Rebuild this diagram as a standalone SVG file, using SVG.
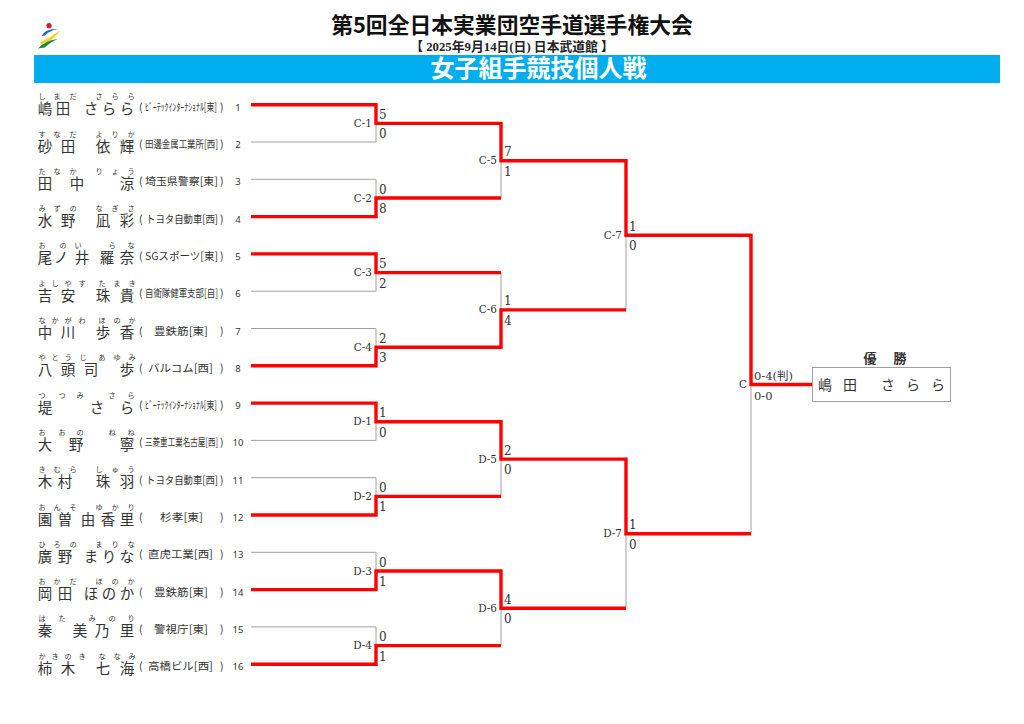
<svg xmlns="http://www.w3.org/2000/svg" width="1024" height="724" viewBox="0 0 1024 724">
<style>
text{font-family:"Noto Sans CJK JP","Noto Sans",sans-serif;fill:#333}
.nm{font-size:14.5px;text-anchor:middle}
.fu{font-size:7.2px;text-anchor:middle}
.af{font-size:10.5px}
.no{font-size:9.5px;text-anchor:middle;font-family:"Noto Sans",sans-serif}
.lb{font-family:"DejaVu Serif",serif;font-size:10.5px;text-anchor:end}
.sc{font-family:"DejaVu Serif","Noto Sans CJK JP",serif;font-size:12px}
.red{fill:none;stroke:#f00;stroke-width:3.4}
.gry{fill:none;stroke:#a0a0a0;stroke-width:1}
</style>
<g id="logo">
<circle cx="49" cy="25.7" r="2.6" fill="#c8232c"/>
<path d="M41.500 36Q46 28 57.500 29Q49 30.500 45 35.500Z" fill="#2468b4"/>
<path d="M39.500 42.500Q50 38 60 30.500Q54 41 42 44Z" fill="#f5d31f"/>
<path d="M38 48.500Q44 41 57.500 39Q49 43 45 47.500Z" fill="#1d8a4c"/>
</g>
<g id="header">
<text x="512" y="32.500" text-anchor="middle" font-size="21.800" font-weight="700" style="fill:#111">第5回全日本実業団空手道選手権大会</text>
<text x="512" y="50.500" text-anchor="middle" font-size="12.800" font-weight="700" style="font-family:'Liberation Serif','Noto Sans CJK JP',serif;fill:#222">【 2025年9月14日(日)  日本武道館 】</text>
<rect x="34" y="55" width="966" height="28" fill="#00aeef"/>
<text x="538.500" y="77" text-anchor="middle" font-size="24" font-weight="700" style="fill:#fff">女子組手競技個人戦</text>
</g>
<g id="connectors">
<path class="gry" d="M251 142H376V123.400M251 179.300H376V198M251 291.200H376V272.600M251 328.500H376V347.200M251 440.400H376V421.800M251 477.700H376V496.400M251 552.300H376V571M251 626.900H376V645.600M501 198V160.700M501 272.600V309.900M501 496.400V459.100M501 645.600V608.300M626 309.900V235.300M626 608.300V533.700M751 533.700V384.500"/>
<path class="red" d="M251 104.700H376V123.400H501V160.700H626V235.300H751V384.500H812"/>
<path class="red" d="M251 216.600H376V198H501"/>
<path class="red" d="M251 253.900H376V272.600H501"/>
<path class="red" d="M251 365.800H376V347.200H501V309.900H626"/>
<path class="red" d="M251 403.100H376V421.800H501V459.100H626V533.700H751"/>
<path class="red" d="M251 515H376V496.400H501"/>
<path class="red" d="M251 589.600H376V571H501V608.300H626"/>
<path class="red" d="M251 664.200H376V645.600H501"/>
</g>
<g id="p1" transform="translate(0,104.700)"><text class="fu" y="-5.500" x="42 57 73 99 115 131">しまださらら</text><text class="nm" y="9.500" x="45 63 91 109 127">嶋田さらら</text><text class="af" y="6"><tspan x="139">(</tspan><tspan x="145" textLength="72" lengthAdjust="spacingAndGlyphs">ﾋﾞｰﾃｯｸｲﾝﾀｰﾅｼｮﾅﾙ[東]</tspan><tspan x="220">)</tspan></text><text class="no" x="238" y="6">1</text></g>
<g id="p2" transform="translate(0,142)"><text class="fu" y="-5.500" x="42 57 73 99 115 131">すなだよりか</text><text class="nm" y="9.500" x="45 68 103 127">砂田依輝</text><text class="af" y="6"><tspan x="139">(</tspan><tspan x="145" textLength="73" lengthAdjust="spacingAndGlyphs">田邊金属工業所[西]</tspan><tspan x="220">)</tspan></text><text class="no" x="238" y="6">2</text></g>
<g id="p3" transform="translate(0,179.300)"><text class="fu" y="-5.500" x="42 57 73 99 115 131">たなかりょう</text><text class="nm" y="9.500" x="45 77 127">田中涼</text><text class="af" y="6"><tspan x="139">(</tspan><tspan x="145" textLength="73" lengthAdjust="spacingAndGlyphs">埼玉県警察[東]</tspan><tspan x="220">)</tspan></text><text class="no" x="238" y="6">3</text></g>
<g id="p4" transform="translate(0,216.600)"><text class="fu" y="-5.500" x="42 57 73 99 115 131">みずのなぎさ</text><text class="nm" y="9.500" x="45 68 103 127">水野凪彩</text><text class="af" y="6"><tspan x="139">(</tspan><tspan x="146" textLength="72" lengthAdjust="spacingAndGlyphs">トヨタ自動車[西]</tspan><tspan x="220">)</tspan></text><text class="no" x="238" y="6">4</text></g>
<g id="p5" transform="translate(0,253.900)"><text class="fu" y="-5.500" x="42 63 78 112 131">おのいらな</text><text class="nm" y="9.500" x="45 61 82 107 127">尾ノ井羅奈</text><text class="af" y="6"><tspan x="139">(</tspan><tspan x="145" textLength="73" lengthAdjust="spacingAndGlyphs">SGスポーツ[東]</tspan><tspan x="220">)</tspan></text><text class="no" x="238" y="6">5</text></g>
<g id="p6" transform="translate(0,291.200)"><text class="fu" y="-5.500" x="42 55 68 82 102 117 132">よしやすたまき</text><text class="nm" y="9.500" x="45 68 103 127">吉安珠貴</text><text class="af" y="6"><tspan x="139">(</tspan><tspan x="145" textLength="73" lengthAdjust="spacingAndGlyphs">自衛隊健軍支部[自]</tspan><tspan x="220">)</tspan></text><text class="no" x="238" y="6">6</text></g>
<g id="p7" transform="translate(0,328.500)"><text class="fu" y="-5.500" x="42 55 68 82 102 117 132">なかがわほのか</text><text class="nm" y="9.500" x="45 68 103 127">中川歩香</text><text class="af" y="6"><tspan x="139">(</tspan><tspan x="154" textLength="54" lengthAdjust="spacingAndGlyphs">豊鉄筋[東]</tspan><tspan x="220">)</tspan></text><text class="no" x="238" y="6">7</text></g>
<g id="p8" transform="translate(0,365.800)"><text class="fu" y="-5.500" x="42 55 68 83 102 117 132">やとうじあゆみ</text><text class="nm" y="9.500" x="45 68 91 127">八頭司歩</text><text class="af" y="6"><tspan x="139">(</tspan><tspan x="148" textLength="65" lengthAdjust="spacingAndGlyphs">バルコム[西]</tspan><tspan x="220">)</tspan></text><text class="no" x="238" y="6">8</text></g>
<g id="p9" transform="translate(0,403.100)"><text class="fu" y="-5.500" x="42 62 80 112 131">つつみさら</text><text class="nm" y="9.500" x="45 97 127">堤さら</text><text class="af" y="6"><tspan x="139">(</tspan><tspan x="145" textLength="72" lengthAdjust="spacingAndGlyphs">ﾋﾞｰﾃｯｸｲﾝﾀｰﾅｼｮﾅﾙ[東]</tspan><tspan x="220">)</tspan></text><text class="no" x="238" y="6">9</text></g>
<g id="p10" transform="translate(0,440.400)"><text class="fu" y="-5.500" x="42 62 80 112 131">おおのねね</text><text class="nm" y="9.500" x="45 76 127">大野寧</text><text class="af" y="6"><tspan x="139">(</tspan><tspan x="145" textLength="73" lengthAdjust="spacingAndGlyphs">三菱重工業名古屋[西]</tspan><tspan x="220">)</tspan></text><text class="no" x="238" y="6">10</text></g>
<g id="p11" transform="translate(0,477.700)"><text class="fu" y="-5.500" x="42 57 73 99 115 131">きむらしゅう</text><text class="nm" y="9.500" x="45 65 103 127">木村珠羽</text><text class="af" y="6"><tspan x="139">(</tspan><tspan x="146" textLength="72" lengthAdjust="spacingAndGlyphs">トヨタ自動車[西]</tspan><tspan x="220">)</tspan></text><text class="no" x="238" y="6">11</text></g>
<g id="p12" transform="translate(0,515)"><text class="fu" y="-5.500" x="42 57 73 99 115 131">おんそゆかり</text><text class="nm" y="9.500" x="45 65 88 108 127">園曽由香里</text><text class="af" y="6"><tspan x="139">(</tspan><tspan x="160" textLength="43" lengthAdjust="spacingAndGlyphs">杉孝[東]</tspan><tspan x="220">)</tspan></text><text class="no" x="238" y="6">12</text></g>
<g id="p13" transform="translate(0,552.300)"><text class="fu" y="-5.500" x="42 57 73 99 115 131">ひろのまりな</text><text class="nm" y="9.500" x="45 65 91 109 127">廣野まりな</text><text class="af" y="6"><tspan x="139">(</tspan><tspan x="148" textLength="65" lengthAdjust="spacingAndGlyphs">直虎工業[西]</tspan><tspan x="220">)</tspan></text><text class="no" x="238" y="6">13</text></g>
<g id="p14" transform="translate(0,589.600)"><text class="fu" y="-5.500" x="42 57 73 99 115 131">おかだほのか</text><text class="nm" y="9.500" x="45 65 91 109 127">岡田ほのか</text><text class="af" y="6"><tspan x="139">(</tspan><tspan x="154" textLength="54" lengthAdjust="spacingAndGlyphs">豊鉄筋[東]</tspan><tspan x="220">)</tspan></text><text class="no" x="238" y="6">14</text></g>
<g id="p15" transform="translate(0,626.900)"><text class="fu" y="-5.500" x="42 62 92 112 131">はたみのり</text><text class="nm" y="9.500" x="45 80 102 127">秦美乃里</text><text class="af" y="6"><tspan x="139">(</tspan><tspan x="154" textLength="54" lengthAdjust="spacingAndGlyphs">警視庁[東]</tspan><tspan x="220">)</tspan></text><text class="no" x="238" y="6">15</text></g>
<g id="p16" transform="translate(0,664.200)"><text class="fu" y="-5.500" x="42 55 68 82 102 117 132">かきのきななみ</text><text class="nm" y="9.500" x="45 68 103 127">柿木七海</text><text class="af" y="6"><tspan x="139">(</tspan><tspan x="148" textLength="65" lengthAdjust="spacingAndGlyphs">高橋ビル[西]</tspan><tspan x="220">)</tspan></text><text class="no" x="238" y="6">16</text></g>
<g id="m-c1" transform="translate(376,123.400)"><text class="lb" x="-4" y="3.500">C-1</text><text class="sc" x="3" y="-4.500">5</text><text class="sc" x="3" y="15">0</text></g>
<g id="m-c2" transform="translate(376,198)"><text class="lb" x="-4" y="3.500">C-2</text><text class="sc" x="3" y="-4.500">0</text><text class="sc" x="3" y="15">8</text></g>
<g id="m-c3" transform="translate(376,272.600)"><text class="lb" x="-4" y="3.500">C-3</text><text class="sc" x="3" y="-4.500">5</text><text class="sc" x="3" y="15">2</text></g>
<g id="m-c4" transform="translate(376,347.200)"><text class="lb" x="-4" y="3.500">C-4</text><text class="sc" x="3" y="-4.500">2</text><text class="sc" x="3" y="15">3</text></g>
<g id="m-c5" transform="translate(501,160.700)"><text class="lb" x="-4" y="3.500">C-5</text><text class="sc" x="3" y="-4.500">7</text><text class="sc" x="3" y="15">1</text></g>
<g id="m-c6" transform="translate(501,309.900)"><text class="lb" x="-4" y="3.500">C-6</text><text class="sc" x="3" y="-4.500">1</text><text class="sc" x="3" y="15">4</text></g>
<g id="m-c7" transform="translate(626,235.300)"><text class="lb" x="-4" y="3.500">C-7</text><text class="sc" x="3" y="-4.500">1</text><text class="sc" x="3" y="15">0</text></g>
<g id="m-d1" transform="translate(376,421.800)"><text class="lb" x="-4" y="3.500">D-1</text><text class="sc" x="3" y="-4.500">1</text><text class="sc" x="3" y="15">0</text></g>
<g id="m-d2" transform="translate(376,496.400)"><text class="lb" x="-4" y="3.500">D-2</text><text class="sc" x="3" y="-4.500">0</text><text class="sc" x="3" y="15">1</text></g>
<g id="m-d3" transform="translate(376,571)"><text class="lb" x="-4" y="3.500">D-3</text><text class="sc" x="3" y="-4.500">0</text><text class="sc" x="3" y="15">1</text></g>
<g id="m-d4" transform="translate(376,645.600)"><text class="lb" x="-4" y="3.500">D-4</text><text class="sc" x="3" y="-4.500">0</text><text class="sc" x="3" y="15">1</text></g>
<g id="m-d5" transform="translate(501,459.100)"><text class="lb" x="-4" y="3.500">D-5</text><text class="sc" x="3" y="-4.500">2</text><text class="sc" x="3" y="15">0</text></g>
<g id="m-d6" transform="translate(501,608.300)"><text class="lb" x="-4" y="3.500">D-6</text><text class="sc" x="3" y="-4.500">4</text><text class="sc" x="3" y="15">0</text></g>
<g id="m-d7" transform="translate(626,533.700)"><text class="lb" x="-4" y="3.500">D-7</text><text class="sc" x="3" y="-4.500">1</text><text class="sc" x="3" y="15">0</text></g>
<g id="m-final" transform="translate(751,384.500)"><text class="lb" x="-4" y="3.500">C</text><text class="sc" x="3" y="-5" style="font-size:11.500px">0-4(判)</text><text class="sc" x="3" y="15" style="font-size:11.500px">0-0</text></g>
<g id="champion">
<text x="870 900" y="363" text-anchor="middle" font-size="13" font-weight="700">優勝</text>
<rect x="812.500" y="367.500" width="138" height="34" fill="#fff" stroke="#a0a0a0"/>
<text x="825 850 888 913 938" y="390" text-anchor="middle" font-size="14">嶋田さらら</text>
</g>
</svg>
